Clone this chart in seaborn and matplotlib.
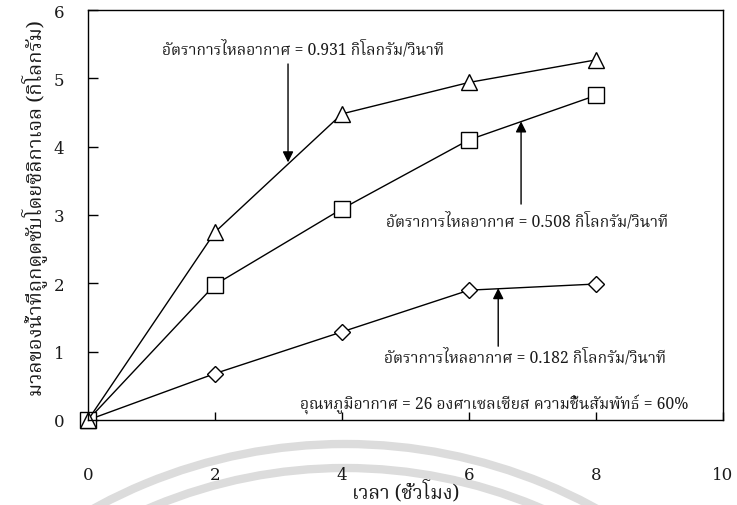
import matplotlib
matplotlib.use("Agg")
import matplotlib.pyplot as plt
from matplotlib.patches import Arc
import pandas as pd
import seaborn as sns

# Drying time (hours) and water adsorbed by silica gel (kg) for three air flow rates
hours = [0, 2, 4, 6, 8]
flow_0931 = [0.0, 2.75, 4.48, 4.94, 5.27]
flow_0508 = [0.0, 1.98, 3.09, 4.10, 4.75]
flow_0182 = [0.0, 0.68, 1.29, 1.90, 1.99]

label_0931 = "อัตราการไหลอากาศ = 0.931 กิโลกรัม/วินาที"
label_0508 = "อัตราการไหลอากาศ = 0.508 กิโลกรัม/วินาที"
label_0182 = "อัตราการไหลอากาศ = 0.182 กิโลกรัม/วินาที"
condition_note = "อุณหภูมิอากาศ = 26 องศาเซลเซียส ความชื้นสัมพัทธ์ = 60%"
x_title = "เวลา (ชั่วโมง)"
y_title = "มวลของน้ำที่ถูกดูดซับโดยซิลิกาเจล (กิโลกรัม)"

x_ticks = [0, 2, 4, 6, 8, 10]
y_ticks = [0, 1, 2, 3, 4, 5, 6]

sns.set_theme(style="white")
thai = ["Noto Serif Thai", "DejaVu Serif"]
plt.rcParams["font.family"] = thai
ink = "#1a1a1a"

fig = plt.figure(figsize=(7.37, 5.06), dpi=100)

# light watermark arcs along the bottom edge
bg = fig.add_axes([0, 0, 1, 1], zorder=-1)
bg.set_xlim(0, 737)
bg.set_ylim(506, 0)
bg.axis("off")
for r in (522, 498):
    bg.add_patch(Arc((345, 967), 2 * r, 2 * r, theta1=0, theta2=360,
                     color="#dcdcdc", lw=6))

ax = fig.add_axes([88 / 737, 1 - 421 / 506, (723 - 88) / 737, (421 - 11) / 506])
ax.set_facecolor("none")

series = [
    (flow_0182, "D", 8.5),
    (flow_0508, "s", 11),
    (flow_0931, "^", 11),
]
for values, mk, ms in series:
    df = pd.DataFrame({"hours": hours, "mass": values})
    sns.lineplot(data=df, x="hours", y="mass", ax=ax, color="black", lw=1.0,
                 marker=mk, markersize=ms, markerfacecolor="white",
                 markeredgecolor="black", markeredgewidth=1.0, clip_on=False)

ax.set_xlim(0, 10)
ax.set_ylim(0, 6)
ax.set_xticks(x_ticks)
ax.set_yticks(y_ticks)
ax.set_xticklabels([str(v) for v in x_ticks], family="DejaVu Serif", fontsize=12)
ax.set_yticklabels([str(v) for v in y_ticks], family="DejaVu Serif", fontsize=12)
ax.tick_params(axis="x", direction="in", length=6, width=1, color="black",
               pad=33, bottom=True, top=False, labelcolor=ink)
ax.tick_params(axis="y", direction="in", length=7, width=1, color="black",
               pad=17, left=True, right=False, labelcolor=ink)
for s in ax.spines.values():
    s.set_color("black")
    s.set_linewidth(1.0)

ax.set_xlabel(x_title, fontsize=14, family=thai, color=ink, va="center")
ax.xaxis.set_label_coords(0.5, -(492 - 421) / 410)
ax.set_ylabel(y_title, fontsize=14.5, family=thai, color=ink, va="center")
ax.yaxis.set_label_coords(-(88 - 34) / 635, 0.52)

arrow = dict(arrowstyle="-|>", color="black", lw=1.0, mutation_scale=16,
             shrinkA=0, shrinkB=0)
ax.annotate("", xy=(3.15, 3.77), xytext=(3.15, 5.21), arrowprops=arrow)
ax.annotate("", xy=(6.82, 4.37), xytext=(6.82, 3.16), arrowprops=arrow)
ax.annotate("", xy=(6.46, 1.93), xytext=(6.46, 1.08), arrowprops=arrow)

txt = dict(ha="center", va="center", fontsize=11.3, family=thai, color=ink,
           fontweight="medium")
ax.text(3.39, 5.43, label_0931, **txt)
ax.text(6.91, 2.91, label_0508, **txt)
ax.text(6.88, 0.92, label_0182, **txt)
ax.text(6.39, 0.23, condition_note, **txt)

fig.savefig("out.png", dpi=100)
